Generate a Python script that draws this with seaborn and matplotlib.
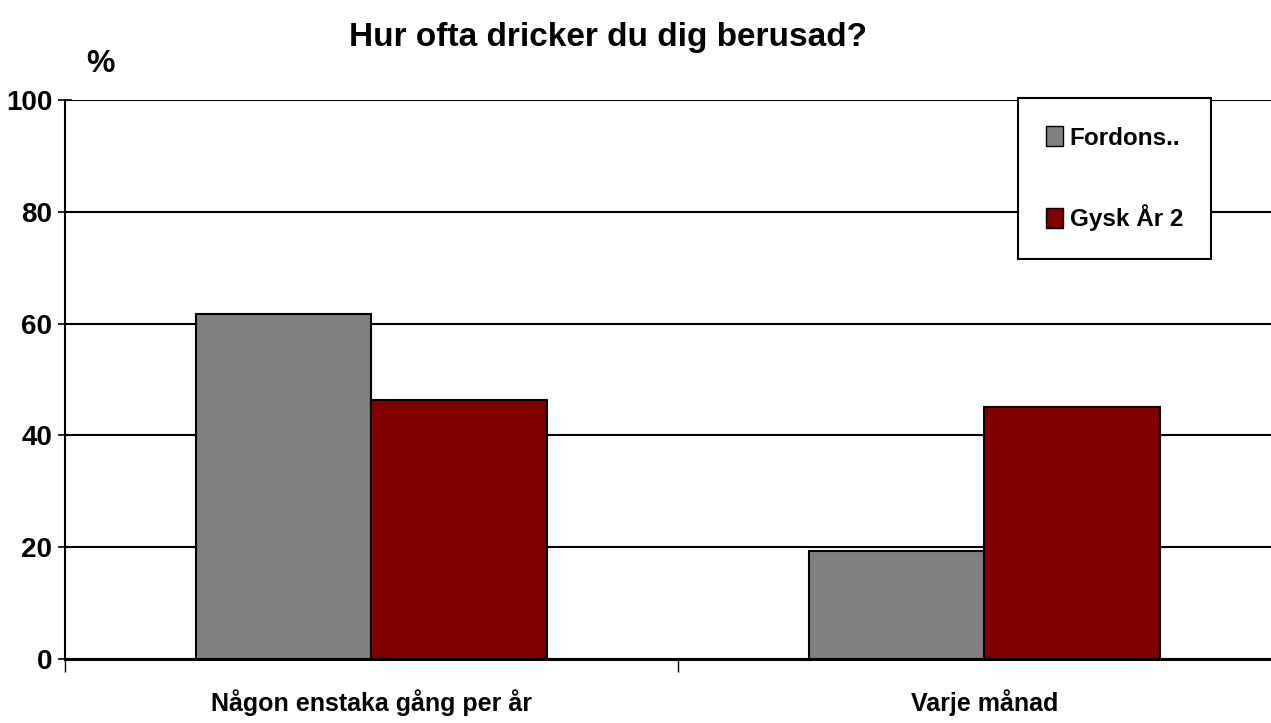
import numpy as np
import pandas as pd
import matplotlib
matplotlib.use("Agg")
import matplotlib.pyplot as plt
import seaborn as sns

categories = ["Någon enstaka gång per år", "Varje månad"]
series = ["Fordons..", "Gysk År 2"]
fordons = [61.7, 19.3]
gysk = [46.3, 45.0]
colors = ["#808080", "#800000"]

df = pd.DataFrame({
    "kategori": categories * 2,
    "grupp": [series[0]] * 2 + [series[1]] * 2,
    "procent": fordons + gysk,
})

sns.set_style("white")
plt.rcParams["font.family"] = ["Liberation Sans", "DejaVu Sans"]
plt.rcParams["font.weight"] = "bold"
plt.rcParams["text.color"] = "black"
plt.rcParams["xtick.color"] = "black"
plt.rcParams["ytick.color"] = "black"

fig = plt.figure(figsize=(12.71, 7.23), dpi=100)
ax = fig.add_axes([65 / 1271, 64 / 723, 1226 / 1271, 559 / 723])

sns.barplot(data=df, x="kategori", y="procent", hue="grupp", palette=colors,
            edgecolor="black", linewidth=1.5, width=0.571, saturation=1,
            ax=ax, legend=False, zorder=3)

ax.set_ylim(0, 100)
ax.set_xlim(-0.5, 1.5)
ax.set_yticks(np.arange(0, 101, 20))
ax.yaxis.grid(True, color="black", linewidth=1.5, zorder=0)
ax.set_axisbelow(True)
for s in ["top", "right"]:
    ax.spines[s].set_visible(False)
ax.spines["left"].set_linewidth(1.5)
ax.spines["left"].set_color("black")
ax.spines["bottom"].set_linewidth(2.2)
ax.spines["bottom"].set_color("black")
ax.tick_params(axis="y", left=True, direction="inout", length=10, width=1.2,
               labelsize=20, pad=4)
ax.tick_params(axis="x", which="major", bottom=True, length=0, labelsize=18, pad=22)
ax.set_xticks([-0.5, 0.5, 1.5], minor=True)
ax.tick_params(axis="x", which="minor", bottom=True, direction="out", length=9, width=1)
for lab in ax.get_xticklabels() + ax.get_yticklabels():
    lab.set_fontweight("bold")
ax.set_xlabel("")
ax.set_ylabel("")

fig.text(0.478, 0.948, "Hur ofta dricker du dig berusad?", ha="center", va="center",
         fontsize=24, fontweight="bold")
fig.text(0.079, 0.912, "%", ha="center", va="center", fontsize=23, fontweight="bold")

handles = [plt.Rectangle((0, 0), 1, 1, facecolor=c, edgecolor="black", linewidth=1) for c in colors]
leg = ax.legend(handles, series, loc="upper left", bbox_to_anchor=(0.777, 1.003),
                frameon=True, fancybox=False, edgecolor="black", fontsize=17.5,
                framealpha=1, handlelength=0.7, handleheight=0.9, handletextpad=0.3,
                labelspacing=2.25, borderpad=1.15, borderaxespad=0)
leg.get_frame().set_linewidth(1.5)
leg.set_zorder(10)
for t in leg.get_texts():
    t.set_fontweight("bold")

fig.savefig("out.png", dpi=100)
